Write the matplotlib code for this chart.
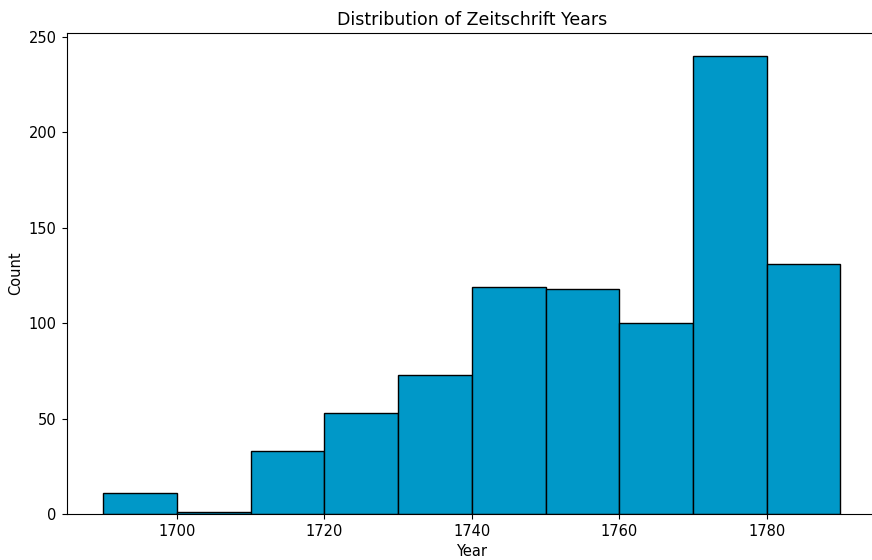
import matplotlib
matplotlib.use("Agg")
import matplotlib.pyplot as plt
import numpy as np

bin_edges = [1690, 1700, 1710, 1720, 1730, 1740, 1750, 1760, 1770, 1780, 1790]
counts = [11, 1, 33, 53, 73, 119, 118, 100, 240, 131]

plt.rcParams["font.size"] = 10.5
fig = plt.figure(figsize=(8.72, 5.6), dpi=100)
ax = fig.add_axes([66.5 / 872, 46 / 560, 810.7 / 872, 481 / 560])
ax.hist(bin_edges[:-1], bins=bin_edges, weights=counts, color="#0098C8", edgecolor="black", linewidth=1.0)
ax.spines["right"].set_visible(False)
ax.set_title("Distribution of Zeitschrift Years", fontsize=12.5)
ax.set_xlabel("Year")
ax.set_ylabel("Count")
fig.savefig("out.png", dpi=100)
